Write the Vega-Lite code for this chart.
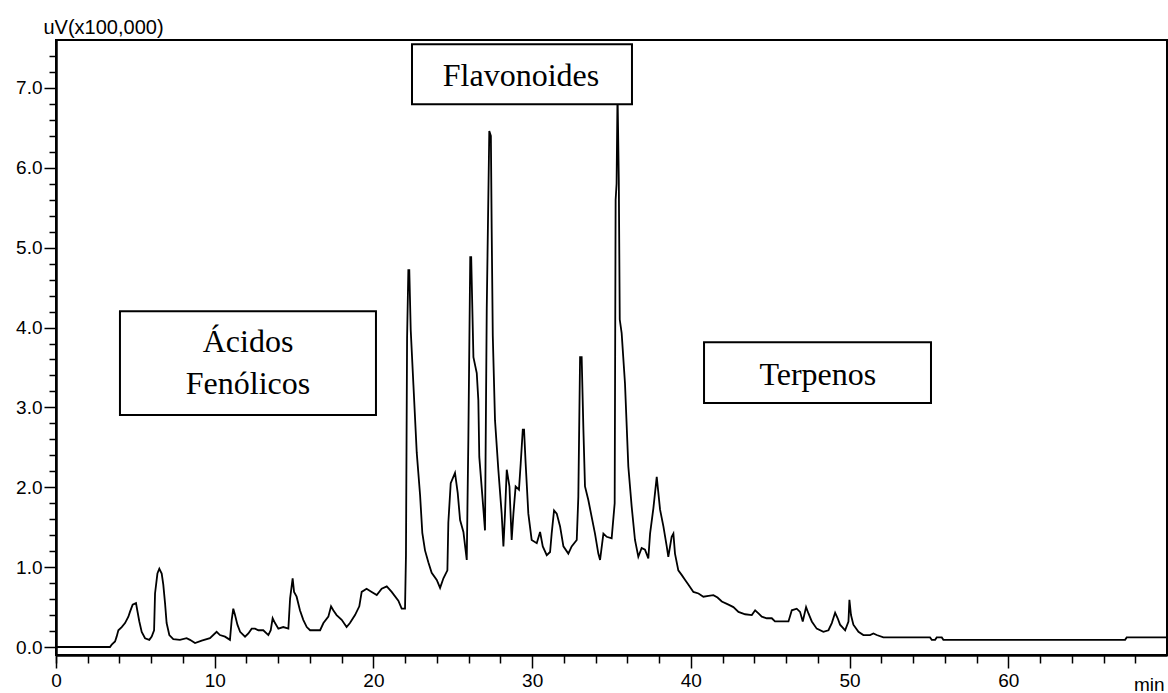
{
  "$schema": "https://vega.github.io/schema/vega-lite/v6.json",
  "width": 1111,
  "height": 615,
  "autosize": {"type": "none"},
  "padding": {"left": 56, "top": 40, "right": 1, "bottom": 38},
  "background": "white",
  "config": {"view": {"stroke": "black", "strokeWidth": 2}, "font": "Liberation Sans", "axis": {"labelOverlap": false, "grid": false}},
  "datasets": {
    "trace": [
      {"t":0,"v":0},{"t":3.40,"v":0},{"t":3.51,"v":0.03},{"t":3.72,"v":0.07},{"t":3.82,"v":0.13},{"t":3.93,"v":0.21},{"t":4.14,"v":0.25},{"t":4.35,"v":0.30},{"t":4.56,"v":0.38},{"t":4.66,"v":0.44},{"t":4.83,"v":0.53},{"t":5.04,"v":0.55},{"t":5.12,"v":0.46},{"t":5.25,"v":0.32},{"t":5.40,"v":0.19},{"t":5.61,"v":0.11},{"t":5.88,"v":0.09},{"t":6.03,"v":0.13},{"t":6.18,"v":0.21},{"t":6.24,"v":0.67},{"t":6.39,"v":0.92},{"t":6.51,"v":0.98},{"t":6.66,"v":0.92},{"t":6.76,"v":0.78},{"t":6.87,"v":0.55},{"t":6.97,"v":0.30},{"t":7.14,"v":0.15},{"t":7.39,"v":0.10},{"t":7.81,"v":0.09},{"t":8.23,"v":0.11},{"t":8.44,"v":0.09},{"t":8.76,"v":0.05},{"t":9.18,"v":0.08},{"t":9.70,"v":0.11},{"t":10.12,"v":0.19},{"t":10.33,"v":0.15},{"t":10.65,"v":0.13},{"t":10.96,"v":0.09},{"t":11.07,"v":0.34},{"t":11.17,"v":0.48},{"t":11.28,"v":0.40},{"t":11.43,"v":0.28},{"t":11.60,"v":0.19},{"t":11.91,"v":0.13},{"t":12.12,"v":0.17},{"t":12.33,"v":0.23},{"t":12.54,"v":0.23},{"t":12.75,"v":0.21},{"t":13.06,"v":0.21},{"t":13.38,"v":0.15},{"t":13.53,"v":0.21},{"t":13.65,"v":0.36},{"t":13.80,"v":0.30},{"t":14.01,"v":0.23},{"t":14.32,"v":0.25},{"t":14.64,"v":0.23},{"t":14.75,"v":0.61},{"t":14.91,"v":0.86},{"t":15.00,"v":0.69},{"t":15.16,"v":0.63},{"t":15.37,"v":0.46},{"t":15.58,"v":0.34},{"t":15.80,"v":0.25},{"t":16.01,"v":0.21},{"t":16.64,"v":0.21},{"t":16.85,"v":0.30},{"t":17.16,"v":0.38},{"t":17.33,"v":0.51},{"t":17.47,"v":0.46},{"t":17.68,"v":0.40},{"t":18.00,"v":0.34},{"t":18.31,"v":0.25},{"t":18.52,"v":0.30},{"t":18.84,"v":0.40},{"t":19.11,"v":0.51},{"t":19.26,"v":0.69},{"t":19.57,"v":0.73},{"t":19.89,"v":0.69},{"t":20.21,"v":0.65},{"t":20.52,"v":0.73},{"t":20.84,"v":0.76},{"t":21.15,"v":0.69},{"t":21.57,"v":0.58},{"t":21.78,"v":0.48},{"t":21.99,"v":0.48},{"t":22.05,"v":1.15},{"t":22.12,"v":3.86},{"t":22.20,"v":4.72},{"t":22.26,"v":4.72},{"t":22.35,"v":3.97},{"t":22.52,"v":3.28},{"t":22.73,"v":2.43},{"t":22.94,"v":1.90},{"t":23.08,"v":1.43},{"t":23.25,"v":1.21},{"t":23.46,"v":1.06},{"t":23.67,"v":0.93},{"t":23.99,"v":0.84},{"t":24.20,"v":0.74},{"t":24.41,"v":0.86},{"t":24.66,"v":0.96},{"t":24.72,"v":1.56},{"t":24.87,"v":2.05},{"t":25.14,"v":2.18},{"t":25.31,"v":1.93},{"t":25.46,"v":1.59},{"t":25.67,"v":1.44},{"t":25.88,"v":1.09},{"t":25.98,"v":2.59},{"t":26.10,"v":4.88},{"t":26.16,"v":4.88},{"t":26.30,"v":3.63},{"t":26.51,"v":3.43},{"t":26.61,"v":3.09},{"t":26.67,"v":2.38},{"t":26.93,"v":1.72},{"t":27.03,"v":1.46},{"t":27.14,"v":4.24},{"t":27.30,"v":6.46},{"t":27.40,"v":6.40},{"t":27.45,"v":5.24},{"t":27.52,"v":3.90},{"t":27.66,"v":2.84},{"t":27.87,"v":2.22},{"t":28.08,"v":1.67},{"t":28.19,"v":1.26},{"t":28.29,"v":1.67},{"t":28.40,"v":2.22},{"t":28.57,"v":2.01},{"t":28.71,"v":1.34},{"t":28.82,"v":1.67},{"t":28.96,"v":2.01},{"t":29.17,"v":1.97},{"t":29.28,"v":2.30},{"t":29.41,"v":2.72},{"t":29.49,"v":2.72},{"t":29.59,"v":2.30},{"t":29.76,"v":1.67},{"t":29.97,"v":1.34},{"t":30.29,"v":1.30},{"t":30.50,"v":1.44},{"t":30.67,"v":1.26},{"t":30.92,"v":1.15},{"t":31.13,"v":1.19},{"t":31.23,"v":1.42},{"t":31.38,"v":1.71},{"t":31.55,"v":1.67},{"t":31.76,"v":1.51},{"t":31.97,"v":1.26},{"t":32.28,"v":1.17},{"t":32.49,"v":1.26},{"t":32.81,"v":1.34},{"t":32.91,"v":1.88},{"t":33.02,"v":3.63},{"t":33.12,"v":3.63},{"t":33.23,"v":2.72},{"t":33.33,"v":2.01},{"t":33.54,"v":1.84},{"t":33.75,"v":1.63},{"t":33.96,"v":1.42},{"t":34.17,"v":1.17},{"t":34.28,"v":1.09},{"t":34.49,"v":1.42},{"t":34.70,"v":1.38},{"t":35.01,"v":1.36},{"t":35.20,"v":1.80},{"t":35.26,"v":5.60},{"t":35.32,"v":5.80},{"t":35.38,"v":6.95},{"t":35.46,"v":5.85},{"t":35.52,"v":4.10},{"t":35.64,"v":3.93},{"t":35.85,"v":3.30},{"t":36.06,"v":2.26},{"t":36.27,"v":1.76},{"t":36.48,"v":1.34},{"t":36.69,"v":1.13},{"t":36.90,"v":1.24},{"t":37.11,"v":1.22},{"t":37.32,"v":1.11},{"t":37.43,"v":1.42},{"t":37.64,"v":1.74},{"t":37.85,"v":2.13},{"t":38.06,"v":1.72},{"t":38.27,"v":1.51},{"t":38.48,"v":1.26},{"t":38.58,"v":1.13},{"t":38.79,"v":1.38},{"t":38.90,"v":1.42},{"t":39.00,"v":1.17},{"t":39.21,"v":0.96},{"t":39.43,"v":0.90},{"t":39.64,"v":0.84},{"t":39.85,"v":0.78},{"t":40.16,"v":0.69},{"t":40.48,"v":0.67},{"t":40.79,"v":0.63},{"t":41.11,"v":0.64},{"t":41.42,"v":0.65},{"t":41.68,"v":0.62},{"t":41.95,"v":0.57},{"t":42.37,"v":0.53},{"t":42.68,"v":0.50},{"t":43.00,"v":0.44},{"t":43.42,"v":0.41},{"t":43.84,"v":0.40},{"t":44.05,"v":0.46},{"t":44.26,"v":0.42},{"t":44.47,"v":0.38},{"t":44.78,"v":0.36},{"t":45.10,"v":0.36},{"t":45.30,"v":0.32},{"t":46.15,"v":0.32},{"t":46.36,"v":0.46},{"t":46.67,"v":0.48},{"t":46.88,"v":0.44},{"t":47.05,"v":0.32},{"t":47.26,"v":0.50},{"t":47.41,"v":0.42},{"t":47.62,"v":0.32},{"t":47.93,"v":0.23},{"t":48.35,"v":0.19},{"t":48.67,"v":0.21},{"t":48.88,"v":0.30},{"t":49.09,"v":0.43},{"t":49.25,"v":0.36},{"t":49.40,"v":0.28},{"t":49.72,"v":0.21},{"t":49.93,"v":0.32},{"t":49.99,"v":0.59},{"t":50.09,"v":0.40},{"t":50.24,"v":0.28},{"t":50.56,"v":0.19},{"t":50.87,"v":0.15},{"t":51.29,"v":0.15},{"t":51.50,"v":0.17},{"t":51.71,"v":0.15},{"t":52.13,"v":0.12},{"t":55.07,"v":0.12},{"t":55.18,"v":0.09},{"t":55.39,"v":0.09},{"t":55.49,"v":0.12},{"t":55.81,"v":0.12},{"t":55.91,"v":0.09},{"t":67.36,"v":0.09},{"t":67.46,"v":0.12},{"t":70,"v":0.12}
    ],
    "boxes": [
      {"name":"Ácidos Fenólicos","x1":4.03,"x2":20.16,"y1":2.904,"y2":4.205},
      {"name":"Flavonoides","x1":22.43,"x2":36.29,"y1":6.796,"y2":7.547},
      {"name":"Terpenos","x1":40.83,"x2":55.13,"y1":3.054,"y2":3.817}
    ],
    "labels": [
      {"label":"Ácidos","x":12.1,"y":3.69},
      {"label":"Fenólicos","x":12.1,"y":3.17},
      {"label":"Flavonoides","x":29.3,"y":7.03},
      {"label":"Terpenos","x":48.0,"y":3.28}
    ]
  },
  "resolve": {"axis": {"x": "independent", "y": "independent"}},
  "layer": [
    {
      "data": {"name": "trace"},
      "mark": {"type": "line", "color": "black", "strokeWidth": 1.8, "clip": true},
      "encoding": {
        "x": {
          "field": "t", "type": "quantitative",
          "scale": {"domain": [0, 70], "nice": false, "zero": false},
          "axis": {
            "orient": "bottom",
            "values": [0,10,20,30,40,50,60],
            "format": "d",
            "tickSize": 13, "tickWidth": 1.5, "tickColor": "black",
            "domainColor": "black", "domainWidth": 2,
            "labelFontSize": 19, "labelColor": "black", "labelPadding": 3,
            "labelFlush": false, "labelOverlap": false,
            "title": "min", "titleX": 1108, "titleY": 35, "titleAlign": "right",
            "titleBaseline": "alphabetic", "titleFontWeight": "normal", "titleFontSize": 19, "titleColor": "black"
          }
        },
        "y": {
          "field": "v", "type": "quantitative",
          "scale": {"domain": [-0.1, 7.6], "nice": false, "zero": false},
          "axis": {
            "orient": "left",
            "values": [0,1,2,3,4,5,6,7],
            "format": ".1f",
            "tickSize": 12, "tickWidth": 1.5, "tickColor": "black",
            "domainColor": "black", "domainWidth": 2,
            "labelFontSize": 19, "labelColor": "black", "labelPadding": 2,
            "labelBaseline": "middle", "labelOverlap": false, "labelFlush": false,
            "title": "uV(x100,000)", "titleAngle": 0, "titleX": -13, "titleY": -7,
            "titleAlign": "left", "titleBaseline": "alphabetic", "titleFontWeight": "normal",
            "titleFontSize": 20, "titleColor": "black"
          }
        }
      }
    },
    {
      "data": {"name": "boxes"},
      "mark": {"type": "rect", "fill": "white", "stroke": "black", "strokeWidth": 2},
      "encoding": {
        "x": {
          "field": "x1", "type": "quantitative",
          "scale": {"domain": [0, 70], "nice": false, "zero": false},
          "axis": {
            "orient": "bottom",
            "values": [0,2,4,6,8,12,14,16,18,22,24,26,28,32,34,36,38,42,44,46,48,52,54,56,58,62,64,66,68],
            "labels": false, "title": null,
            "tickSize": 8, "tickWidth": 1.5, "tickColor": "black",
            "domainColor": "black", "domainWidth": 2
          }
        },
        "x2": {"field": "x2"},
        "y": {
          "field": "y1", "type": "quantitative",
          "scale": {"domain": [-0.1, 7.6], "nice": false, "zero": false},
          "axis": {
            "orient": "left",
            "values": [0.2,0.4,0.6,0.8,1.2,1.4,1.6,1.8,2.2,2.4,2.6,2.8,3.2,3.4,3.6,3.8,4.2,4.4,4.6,4.8,5.2,5.4,5.6,5.8,6.2,6.4,6.6,6.8,7.2,7.4],
            "labels": false, "title": null,
            "tickSize": 7, "tickWidth": 1.5, "tickColor": "black",
            "domainColor": "black", "domainWidth": 2
          }
        },
        "y2": {"field": "y2"}
      }
    },
    {
      "data": {"name": "labels"},
      "mark": {"type": "text", "font": "Liberation Serif", "fontSize": 32, "baseline": "alphabetic", "align": "center", "color": "black"},
      "encoding": {
        "x": {"field": "x", "type": "quantitative", "scale": {"domain": [0, 70], "nice": false, "zero": false}, "axis": null},
        "y": {"field": "y", "type": "quantitative", "scale": {"domain": [-0.1, 7.6], "nice": false, "zero": false}, "axis": null},
        "text": {"field": "label"}
      }
    }
  ]
}
